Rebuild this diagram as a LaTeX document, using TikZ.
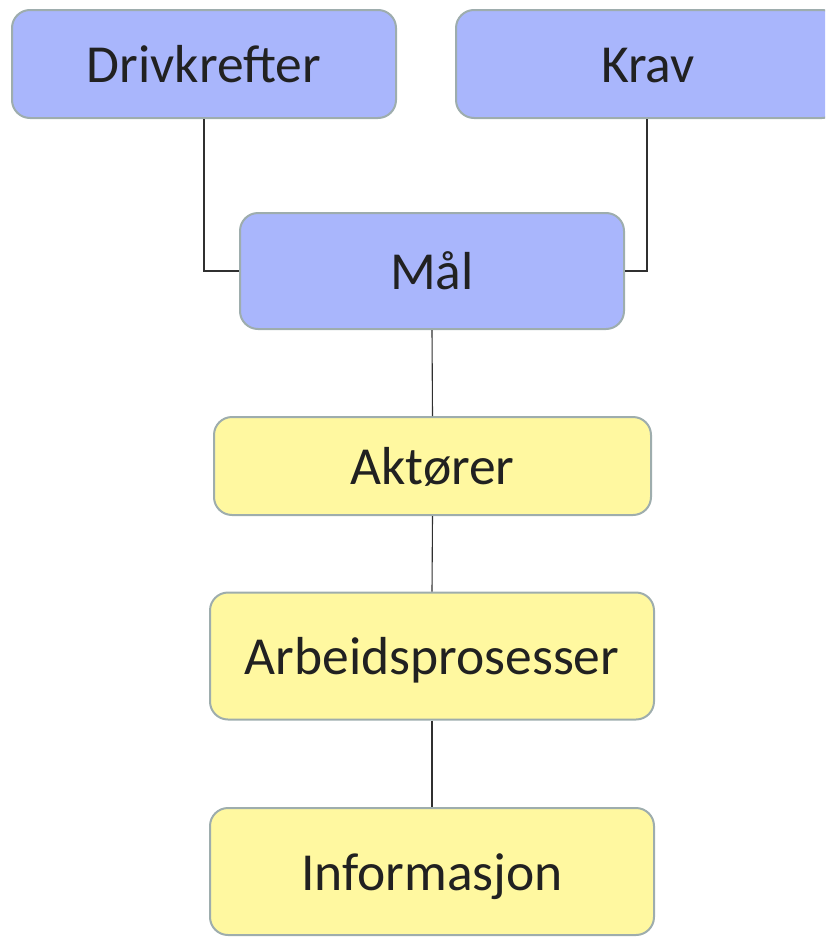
\documentclass[tikz,border=0pt]{standalone}
\usepackage{fontspec}
\setmainfont{Carlito}
\definecolor{boxblue}{HTML}{A9B6FC}
\definecolor{boxyellow}{HTML}{FFF8A0}
\definecolor{boxedge}{HTML}{9EADAD}
\definecolor{linecol}{HTML}{303030}
\tikzset{
  box/.style={draw=boxedge, line width=2pt, rounded corners=18pt, inner sep=0pt,
    text height=37pt, text depth=0pt,
    font=\fontsize{53.5}{60}\selectfont, text=black!87},
  bluebox/.style={box, fill=boxblue},
  yellowbox/.style={box, fill=boxyellow},
  conn/.style={draw=linecol, line width=1.1pt}
}
\begin{document}
\begin{tikzpicture}[x=1pt,y=-1pt]
\useasboundingbox (0,0) rectangle (825,937);
\clip (0,0) rectangle (825,937);
\node[bluebox, minimum width=384pt, minimum height=108pt] (drv) at (204,64) {Drivkrefter};
\node[bluebox, minimum width=384pt, minimum height=108pt] (krav) at (648,64) {Krav};
\node[bluebox, minimum width=384pt, minimum height=116pt] (mal) at (432,271) {Mål};
\node[yellowbox, minimum width=437pt, minimum height=98pt] (akt) at (432.5,466) {Aktører};
\node[yellowbox, minimum width=444pt, minimum height=127pt] (arb) at (432,656) {Arbeidsprosesser};
\node[yellowbox, minimum width=444pt, minimum height=127pt] (inf) at (432,871.5) {Informasjon};
\draw[conn] (drv.south) |- (mal.west);
\draw[conn] ([xshift=-1pt]krav.south) |- (mal.east);
\draw[conn] (mal.south) -- (akt.north);
\draw[conn] (akt.south) -- (arb.north);
\draw[conn] (arb.south) -- (inf.north);
\end{tikzpicture}
\end{document}
